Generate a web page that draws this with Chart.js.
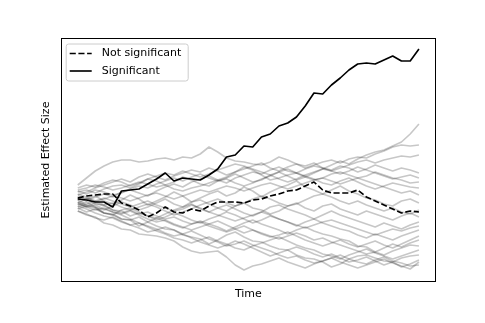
<!DOCTYPE html>
<html>
<head>
<meta charset="utf-8">
<script src="https://cdn.jsdelivr.net/npm/chart.js@4.4.0/dist/chart.umd.min.js"></script>
<style>
  html, body { margin: 0; padding: 0; background: #fff; }
</style>
</head>
<body>
<canvas id="chart" width="485" height="323"></canvas>
<script>
// time steps along x
var timeSteps = [0, 1, 2, 3, 4, 5, 6, 7, 8, 9, 10, 11, 12, 13, 14, 15, 16, 17, 18, 19,
    20, 21, 22, 23, 24, 25, 26, 27, 28, 29, 30, 31, 32, 33, 34, 35, 36, 37, 38, 39];

// highlighted runs
var significant = [0.1, 0.0, -0.2, -0.2, -0.7, 0.9, 1.0, 1.1, 1.6, 2.1, 2.7, 1.9, 2.2, 2.1, 2.0, 2.5, 3.1, 4.3, 4.5, 5.4,
    5.3, 6.3, 6.6, 7.4, 7.7, 8.3, 9.4, 10.7, 10.6, 11.5, 12.2, 13.0, 13.6, 13.7, 13.6, 14.0, 14.4, 13.9, 13.9, 15.1];
var notSignificant = [0.2, 0.4, 0.5, 0.6, 0.6, -0.3, -0.6, -1.0, -1.7, -1.3, -0.7, -1.2, -1.3, -0.9, -1.1, -0.6, -0.2, -0.2, -0.2, -0.3,
    0.0, 0.1, 0.4, 0.6, 0.9, 1.0, 1.4, 1.8, 1.0, 0.7, 0.7, 0.7, 1.0, 0.3, -0.1, -0.5, -0.9, -1.3, -1.1, -1.2];

// background runs (gray)
var run01 = [1.5, 2.2, 2.9, 3.4, 3.8, 4.0, 4.0, 3.8, 3.9, 4.1, 4.2, 4.0, 4.3, 4.2, 4.6, 5.3, 4.8, 4.2, 3.9, 3.8,
    3.6, 3.5, 3.8, 4.3, 4.0, 3.6, 3.4, 3.7, 3.2, 3.0, 3.4, 3.2, 2.8, 3.1, 3.5, 3.2, 2.9, 3.2, 3.0, 2.7];
var run02 = [0.8, 1.0, 0.7, 1.1, 1.4, 1.5, 1.2, 1.6, 2.1, 1.9, 1.5, 1.8, 2.3, 2.0, 1.6, 1.4, 1.9, 2.2, 2.6, 2.2,
    1.8, 2.0, 2.5, 2.8, 2.4, 2.0, 2.3, 2.7, 3.1, 3.5, 3.9, 3.6, 4.1, 4.5, 4.8, 5.0, 5.4, 5.8, 6.6, 7.6];
var run03 = [0.5, 0.8, 1.2, 1.5, 1.8, 2.1, 1.8, 2.3, 2.6, 2.3, 2.0, 2.4, 2.7, 3.0, 2.8, 3.2, 2.9, 2.5, 2.8, 3.1,
    3.4, 3.7, 3.2, 2.9, 3.3, 3.6, 3.2, 3.5, 3.8, 4.0, 3.7, 4.1, 4.3, 4.2, 4.6, 4.9, 5.3, 5.5, 5.4, 5.5];
var run04 = [0.2, -0.1, 0.3, 0.6, 0.3, 0.8, 1.0, 0.7, 0.4, 0.9, 1.3, 1.6, 1.3, 1.8, 2.1, 2.4, 2.0, 1.7, 2.2, 2.5,
    2.8, 2.6, 3.0, 3.3, 2.9, 2.7, 3.1, 3.4, 3.2, 2.9, 3.2, 3.5, 3.8, 4.0, 3.7, 4.0, 4.2, 4.4, 4.3, 4.5];
var run05 = [1.0, 1.2, 1.5, 1.3, 1.0, 1.2, 1.5, 1.8, 1.6, 1.3, 1.5, 1.1, 0.9, 1.2, 1.4, 1.7, 2.0, 2.3, 2.8, 3.3,
    3.0, 2.5, 2.0, 2.2, 2.5, 2.7, 2.3, 2.0, 2.2, 2.6, 2.8, 2.5, 2.2, 2.4, 2.8, 2.5, 2.2, 2.0, 1.7, 1.8];
var run06 = [0.0, 0.2, -0.2, 0.1, 0.4, 0.2, -0.1, 0.2, 0.5, 0.7, 0.4, 0.1, 0.4, 0.7, 1.0, 0.8, 1.1, 1.4, 1.2, 0.9,
    1.2, 1.5, 1.7, 1.4, 1.1, 1.4, 1.7, 2.0, 2.2, 1.9, 1.6, 1.9, 2.2, 1.9, 1.6, 1.3, 1.0, 0.7, 0.9, 0.5];
var run07 = [-0.3, 0.1, 0.4, -0.1, -0.4, 0.0, 0.5, 0.1, -0.5, -0.1, 0.3, 0.8, 0.4, -0.2, 0.2, 0.6, 0.9, 0.4, 0.7, 1.3,
    0.9, 0.3, 0.8, 1.2, 1.5, 1.9, 1.3, 1.0, 0.6, 1.0, 1.4, 0.9, 0.6, 0.2, 0.0, -0.4, -0.6, -0.1, 0.1, -0.3];
var run08 = [-0.5, -0.2, -0.7, -1.0, -0.6, -0.2, -0.5, -1.0, -0.7, -0.3, 0.1, -0.4, -0.7, -0.2, 0.0, -0.4, -0.8, -1.1, -0.6, -0.3,
    -0.8, -1.0, -1.4, -1.1, -0.6, -0.3, -0.8, -1.1, -0.6, -0.4, -0.9, -1.2, -1.5, -1.1, -1.4, -1.7, -2.0, -1.6, -1.3, -1.7];
var run09 = [-0.8, -1.2, -0.9, -1.3, -1.5, -1.0, -0.8, -1.2, -1.6, -1.8, -1.4, -1.0, -0.7, -0.4, -0.9, -1.2, -0.8, -0.5, -0.9, -1.3,
    -1.6, -1.2, -0.7, -0.5, -0.9, -1.2, -1.5, -1.9, -1.5, -1.1, -1.5, -1.8, -2.1, -2.4, -2.7, -2.3, -2.6, -2.9, -2.5, -2.2];
var run10 = [0.4, 0.1, -0.4, -0.5, -1.0, -1.1, -1.6, -1.3, -1.6, -2.0, -1.7, -1.3, -1.6, -2.0, -2.3, -1.9, -1.6, -1.2, -1.5, -1.9,
    -2.3, -2.0, -1.6, -1.9, -2.2, -2.6, -2.2, -1.9, -2.3, -2.6, -2.9, -3.1, -3.5, -3.8, -3.4, -3.7, -4.0, -3.6, -3.3, -3.0];
var run11 = [0.0, -0.5, -0.7, -1.3, -1.4, -1.9, -2.0, -2.6, -2.2, -1.8, -2.1, -2.5, -2.8, -2.4, -2.1, -2.4, -2.7, -3.1, -2.7, -2.3,
    -2.0, -2.4, -2.7, -3.0, -3.4, -3.0, -2.7, -3.1, -3.4, -3.6, -3.9, -4.1, -4.6, -4.7, -5.2, -4.8, -4.4, -4.7, -4.3, -4.0];
var run12 = [-1.1, -1.5, -1.7, -2.3, -2.5, -2.9, -3.0, -3.4, -3.5, -3.6, -3.8, -4.1, -4.7, -5.1, -5.3, -5.2, -5.1, -5.7, -6.5, -7.0,
    -6.6, -6.4, -6.1, -5.8, -6.2, -6.5, -6.8, -6.4, -6.1, -5.8, -5.5, -5.9, -6.2, -6.4, -6.0, -5.7, -6.1, -6.3, -6.6, -6.5];
var run13 = [-0.6, -0.9, -1.3, -1.6, -1.8, -2.2, -2.5, -2.3, -2.7, -3.1, -3.4, -3.8, -4.0, -4.3, -4.0, -3.7, -4.1, -4.4, -4.8, -5.0,
    -4.6, -4.3, -4.0, -3.7, -4.1, -4.5, -4.8, -5.0, -5.4, -5.6, -5.9, -5.5, -5.2, -4.9, -5.3, -5.6, -5.9, -5.6, -5.3, -5.0];
var run14 = [-0.2, -0.6, -0.8, -1.3, -1.5, -1.9, -2.0, -1.7, -2.2, -2.6, -2.9, -3.0, -3.5, -3.7, -3.9, -4.4, -4.0, -3.5, -3.2, -3.7,
    -4.1, -4.2, -4.6, -4.9, -5.0, -5.5, -5.8, -5.9, -6.2, -6.7, -6.4, -5.9, -5.6, -5.5, -5.8, -6.1, -6.2, -6.7, -6.4, -6.0];
var run15 = [0.9, 0.6, 1.0, 0.8, 0.5, 0.7, 1.1, 1.4, 1.2, 1.6, 1.9, 2.2, 1.9, 2.3, 2.6, 2.2, 1.9, 2.1, 1.7, 1.4,
    1.7, 2.1, 2.4, 2.8, 3.1, 2.7, 2.4, 2.1, 1.7, 1.5, 1.9, 2.2, 1.8, 1.4, 1.1, 1.4, 1.7, 1.5, 1.3, 1.2];
var run16 = [-0.9, -0.6, -0.3, -0.6, -1.0, -1.3, -1.0, -0.7, -0.4, -0.7, -1.1, -1.5, -1.2, -0.9, -0.5, -0.2, 0.1, -0.3, -0.6, -0.3,
    0.1, 0.4, 0.1, -0.3, -0.6, -0.4, 0.0, 0.4, 0.6, 0.3, -0.1, -0.4, -0.1, -0.5, -0.8, -1.1, -0.8, -1.2, -1.4, -1.0];
var run17 = [-0.4, -0.7, -0.5, -0.9, -1.2, -1.4, -1.1, -1.5, -1.9, -2.2, -2.0, -2.4, -2.7, -3.0, -2.7, -2.4, -2.1, -2.5, -2.9, -3.3,
    -3.0, -3.4, -3.7, -3.5, -3.2, -3.6, -4.0, -4.3, -4.6, -4.3, -4.0, -4.4, -4.7, -4.4, -4.1, -4.5, -4.8, -4.4, -4.0, -3.6];
var run18 = [-1.1, -1.4, -1.8, -2.0, -1.7, -2.1, -2.5, -2.8, -3.2, -3.0, -2.7, -3.0, -3.4, -3.8, -4.2, -4.5, -4.8, -4.5, -4.1, -4.4,
    -4.8, -5.2, -5.6, -5.3, -5.0, -4.7, -5.0, -5.4, -5.7, -5.4, -5.8, -6.2, -6.0, -5.7, -6.1, -6.5, -6.2, -5.8, -5.6, -5.5];
var run19 = [0.6, 0.3, -0.1, -0.5, -0.3, -0.7, -1.0, -1.4, -1.2, -1.6, -1.9, -1.7, -2.1, -2.4, -2.2, -2.6, -2.9, -3.2, -2.9, -2.6,
    -3.0, -3.3, -3.6, -3.9, -3.6, -3.3, -3.6, -4.0, -3.8, -4.2, -4.5, -4.8, -5.1, -5.4, -5.2, -5.5, -5.1, -4.8, -4.5, -4.6];
var run20 = [1.2, 1.5, 1.3, 1.7, 2.0, 1.8, 1.4, 1.7, 2.1, 2.4, 2.7, 2.5, 2.9, 2.6, 2.3, 2.6, 3.0, 3.3, 3.6, 3.4,
    3.1, 2.8, 2.5, 2.1, 1.8, 2.1, 2.5, 2.8, 3.1, 2.9, 2.6, 2.9, 3.3, 3.0, 2.7, 2.4, 2.1, 2.3, 2.5, 2.2];
var run21 = [-0.7, -0.4, -0.1, 0.2, -0.1, -0.4, -0.7, -0.4, -0.1, -0.5, -0.8, -1.1, -0.9, -0.5, -0.8, -1.2, -1.5, -1.8, -2.1, -1.8,
    -1.5, -1.2, -1.5, -1.9, -2.2, -2.5, -2.8, -2.5, -2.2, -2.0, -2.3, -2.6, -2.9, -3.2, -3.5, -3.2, -2.9, -3.1, -2.8, -2.6];
var run22 = [-0.3, -0.7, -1.0, -0.8, -1.2, -1.5, -1.9, -2.3, -2.6, -2.9, -3.3, -3.6, -3.4, -3.1, -3.5, -3.9, -4.2, -4.6, -4.4, -4.1,
    -4.5, -4.8, -5.1, -5.5, -5.8, -5.6, -6.0, -6.3, -6.1, -5.8, -6.2, -6.5, -6.8, -6.5, -6.2, -5.9, -6.3, -6.6, -6.9, -6.2];

var grayRuns = [run01, run02, run03, run04, run05, run06, run07, run08, run09, run10, run11,
    run12, run13, run14, run15, run16, run17, run18, run19, run20, run21, run22];

var FONT = '"DejaVu Sans", "Liberation Sans", sans-serif';

function toPoints(vals) {
    return vals.map(function (v, i) { return { x: timeSteps[i], y: v }; });
}

// index 0 is painted last, so the black lines go first
var datasets = [
    { label: 'Significant', data: toPoints(significant), borderColor: '#000', borderWidth: 1.65 },
    { label: 'Not significant', data: toPoints(notSignificant), borderColor: '#000', borderWidth: 1.65,
      borderDash: [6.1, 2.6] }
];
grayRuns.forEach(function (run, k) {
    datasets.push({ label: 'run' + (k + 1), data: toPoints(run), borderColor: 'rgba(0,0,0,0.22)', borderWidth: 1.65 });
});

// frame round the axes + matplotlib-like legend in the upper left
var framePlugin = {
    id: 'frame',
    afterDatasetsDraw: function (chart) {
        var ctx = chart.ctx, a = chart.chartArea;
        ctx.save();
        ctx.strokeStyle = '#000';
        ctx.lineWidth = 1;
        var l = Math.round(a.left) + 0.5, t = Math.round(a.top) + 0.5;
        var r = Math.round(a.right) - 0.5, b = Math.round(a.bottom) - 0.5;
        ctx.strokeRect(l, t, r - l, b - t);

        // legend box
        var bx = a.left + 5.5, by = a.top + 6, bw = 122, bh = 37;
        ctx.beginPath();
        ctx.roundRect(bx, by, bw, bh, 2.5);
        ctx.fillStyle = 'rgba(255,255,255,0.8)';
        ctx.fill();
        ctx.strokeStyle = '#cccccc';
        ctx.stroke();

        var rows = [datasets[1], datasets[0]];
        ctx.font = '11px ' + FONT;
        ctx.textBaseline = 'middle';
        rows.forEach(function (ds, i) {
            var y = by + 9.5 + i * 17.5;
            ctx.beginPath();
            ctx.setLineDash(ds.borderDash || []);
            ctx.strokeStyle = ds.borderColor;
            ctx.lineWidth = ds.borderWidth;
            ctx.moveTo(bx + 3.5, y);
            ctx.lineTo(bx + 25.5, y);
            ctx.stroke();
            ctx.setLineDash([]);
            ctx.fillStyle = '#000';
            ctx.fillText(ds.label, bx + 35.5, y);
        });
        ctx.restore();
    }
};

new Chart(document.getElementById('chart'), {
    type: 'line',
    data: { datasets: datasets },
    plugins: [framePlugin],
    options: {
        responsive: false,
        animation: false,
        devicePixelRatio: 1,
        layout: { padding: { left: 35.8, right: 49, top: 38, bottom: 18.4 } },
        elements: {
            point: { radius: 0 },
            line: { tension: 0, borderJoinStyle: 'round', fill: false }
        },
        plugins: { legend: { display: false }, tooltip: { enabled: false } },
        scales: {
            x: {
                type: 'linear', min: -1.95, max: 40.95,
                ticks: { display: false },
                grid: { display: false, drawTicks: false },
                border: { display: false },
                title: { display: true, text: 'Time', color: '#000',
                    font: { family: FONT, size: 11 }, padding: { top: 5.4, bottom: 4 } }
            },
            y: {
                min: -8.2, max: 16.2,
                ticks: { display: false },
                grid: { display: false, drawTicks: false },
                border: { display: false },
                title: { display: true, text: 'Estimated Effect Size', color: '#000',
                    font: { family: FONT, size: 11 }, padding: { top: 4, bottom: 7.7 } }
            }
        }
    }
});
</script>
</body>
</html>
